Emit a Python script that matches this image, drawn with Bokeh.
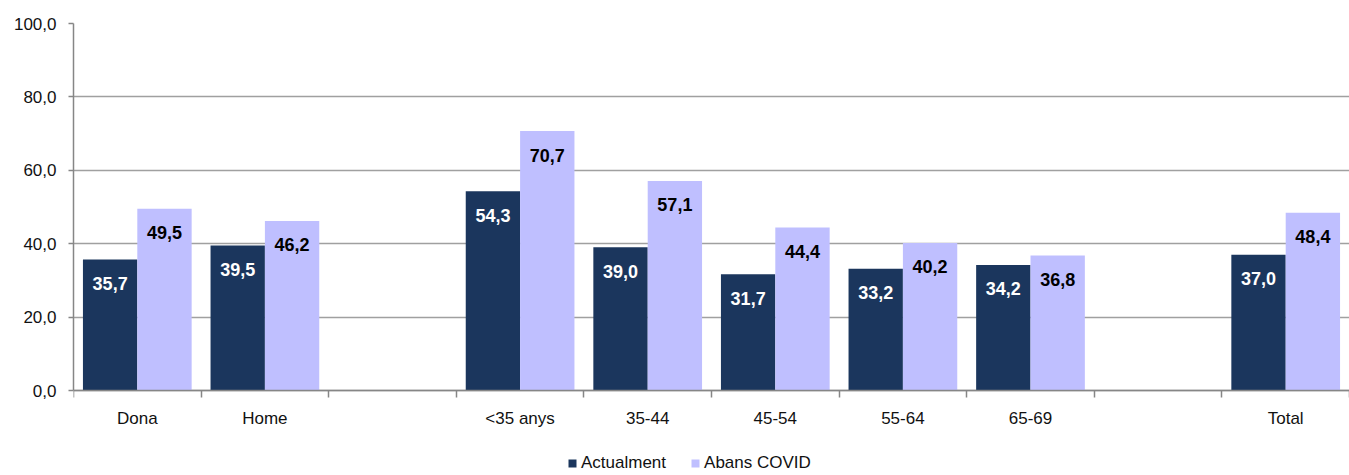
from bokeh.plotting import figure
from bokeh.models import Range1d, FixedTicker, Legend, LegendItem, ColumnDataSource
from bokeh.core.properties import value
from bokeh.embed import file_html
from bokeh.resources import INLINE

categories = ["Dona", "Home", "", "<35 anys", "35-44", "45-54", "55-64", "65-69", "", "Total"]
actualment = [35.7, 39.5, None, 54.3, 39.0, 31.7, 33.2, 34.2, None, 37.0]
abans_covid = [49.5, 46.2, None, 70.7, 57.1, 44.4, 40.2, 36.8, None, 48.4]
series_names = ["Actualment", "Abans COVID"]
series_colors = ["#1B365D", "#BFBFFF"]
label_colors = ["white", "black"]
y_ticks = [0, 20, 40, 60, 80, 100]

FONT = "Liberation Sans"
n = len(categories)
bar_w = 0.426
offsets = [-0.213, 0.213]

W, H = 1349, 475
TOP, ZERO_Y = 23, 390          # pixel rows of the 100 line and the 0 line
y_max = y_ticks[-1]
y_min = -y_max * (H - ZERO_Y) / (ZERO_Y - TOP)   # room below zero for labels and legend

p = figure(width=W, height=H, output_backend="svg", toolbar_location=None,
           x_range=Range1d(0, n), y_range=Range1d(y_min, y_max),
           min_border_left=73, min_border_right=0, min_border_top=TOP, min_border_bottom=0)
p.outline_line_color = None
p.background_fill_color = "white"
p.border_fill_color = "white"

renderers = []
for s, (vals, off) in enumerate(zip([actualment, abans_covid], offsets)):
    xs, tops, labs = [], [], []
    for i, v in enumerate(vals):
        if v is None:
            continue
        xs.append(i + 0.5 + off)
        tops.append(v)
        labs.append(f"{v:.1f}".replace(".", ","))
    src = ColumnDataSource(dict(x=xs, top=tops, label=labs))
    r = p.vbar(x="x", top="top", width=bar_w, source=src, fill_color=series_colors[s],
               line_color=None)
    renderers.append(r)
    p.text(x="x", y="top", text="label", source=src, text_align="center",
           text_baseline="middle", y_offset=24, text_font=value(FONT),
           text_font_style="bold", text_font_size="18px", text_color=label_colors[s])

# x axis at y = 0: labels at category centres, tick marks at category boundaries
xa = p.xaxis[0]
xa.fixed_location = 0
xa.ticker = FixedTicker(ticks=[i + 0.5 for i in range(n)], minor_ticks=list(range(n + 1)))
xa.major_label_overrides = {i + 0.5: c for i, c in enumerate(categories)}
xa.major_tick_out = 0
xa.major_tick_in = 0
xa.minor_tick_out = 7
xa.minor_tick_in = 0
xa.minor_tick_line_color = "#868686"
xa.minor_tick_line_width = 1.5
xa.axis_line_color = "#868686"
xa.axis_line_width = 1.5
xa.major_label_text_font = FONT
xa.major_label_text_font_size = "17px"
xa.major_label_text_color = "#111111"
xa.major_label_standoff = 11
p.xgrid.grid_line_color = None

ya = p.yaxis[0]
ya.bounds = (0, y_max)
ya.ticker = FixedTicker(ticks=y_ticks, minor_ticks=[])
ya.major_label_overrides = {t: f"{t:.1f}".replace(".", ",") for t in y_ticks}
ya.major_tick_out = 5
ya.major_tick_in = 0
ya.major_tick_line_color = "#868686"
ya.major_tick_line_width = 1.5
ya.minor_tick_line_color = None
ya.axis_line_color = "#868686"
ya.axis_line_width = 1.5
ya.major_label_text_font = FONT
ya.major_label_text_font_size = "17px"
ya.major_label_text_color = "#111111"
ya.major_label_standoff = 12
p.ygrid.grid_line_color = "#A0A0A0"
p.ygrid.grid_line_width = 1.5

legend = Legend(items=[LegendItem(label=nm, renderers=[r]) for nm, r in zip(series_names, renderers)],
                orientation="horizontal", location=(494, 2),
                glyph_width=10, glyph_height=10, label_standoff=4, spacing=24,
                padding=0, margin=0, border_line_color=None, background_fill_alpha=0,
                label_text_font=FONT, label_text_font_size="17px", label_text_color="#111111",
                label_height=18)
p.add_layout(legend, "center")

open("out.html", "w").write(file_html(p, INLINE))
